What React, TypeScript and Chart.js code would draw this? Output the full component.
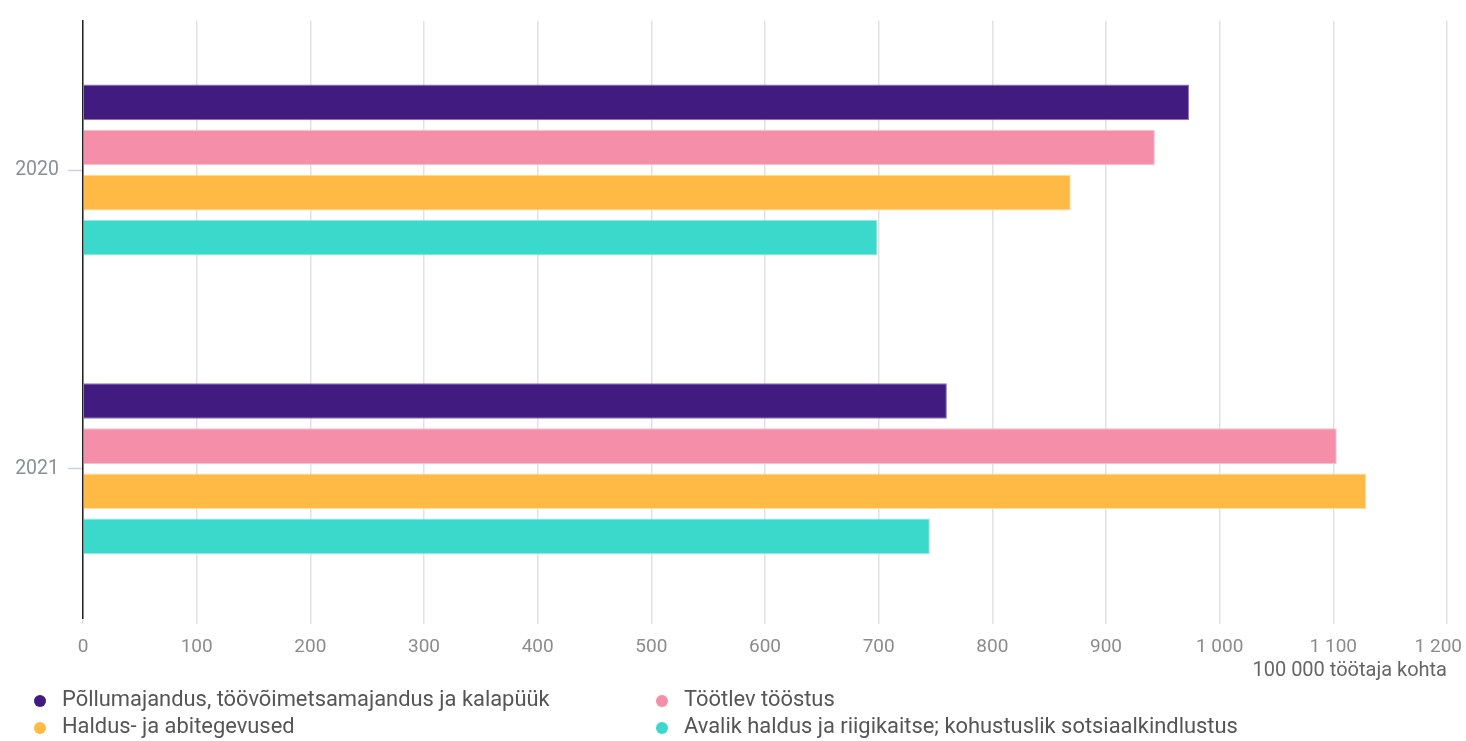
import React, { useEffect, useRef } from "react";
import { Chart, registerables } from "chart.js";

Chart.register(...registerables);

const categories = ["2020", "2021"];
const seriesNames = [
  "Põllumajandus, töövõimetsamajandus ja kalapüük",
  "Töötlev tööstus",
  "Haldus- ja abitegevused",
  "Avalik haldus ja riigikaitse; kohustuslik sotsiaalkindlustus",
];
const pollumajandus = [973, 760];
const tootlev = [943, 1103];
const haldus = [869, 1129];
const avalik = [699, 745];
const seriesValues = [pollumajandus, tootlev, haldus, avalik];
const seriesColors = ["#421b80", "#f58ea8", "#ffba45", "#3bd8cc"];
const seriesBorders = ["#8b72bf", "#f9c0cf", "#ffdca0", "#9debe5"];
const xTickMax = 1200;
const xTickStep = 100;
const axisTitle = "100 000 töötaja kohta";

const FONT = "Roboto";

const fmt = (v: number) =>
  String(v).replace(/\B(?=(\d{3})+(?!\d))/g, " ");

// keep the last x tick label inside the canvas (like the reference does)
const lastLabelPlugin = {
  id: "lastLabelInside",
  beforeDraw(chart: any) {
    const sc = chart.scales.x;
    const items = sc.getLabelItems(chart.chartArea);
    if (!items || !items.length) return;
    const last = items[items.length - 1];
    last.options.textAlign = "right";
    last.options.translation = [chart.width - 4, last.options.translation[1]];
  },
};

const legendPlugin = {
  id: "twoColLegend",
  afterDraw(chart: any) {
    const ctx = chart.ctx;
    const cols = [40, 662];
    const rows = [701, 728];
    ctx.save();
    ctx.font = `21.9px ${FONT}`;
    ctx.textBaseline = "middle";
    chart.data.datasets.forEach((ds: any, i: number) => {
      const x = cols[i % 2];
      const y = rows[Math.floor(i / 2)];
      ctx.beginPath();
      ctx.fillStyle = ds.backgroundColor;
      ctx.arc(x, y, 6, 0, Math.PI * 2);
      ctx.fill();
      ctx.fillStyle = "#555555";
      ctx.textAlign = "left";
      ctx.fillText(ds.label, x + 22, y);
    });
    ctx.restore();
  },
};

export default function App() {
  const ref = useRef<HTMLCanvasElement | null>(null);
  useEffect(() => {
    if (!ref.current) return;
    const chart = new Chart(ref.current, {
      type: "bar",
      data: {
        labels: categories,
        datasets: seriesNames.map((name, i) => ({
          label: name,
          data: seriesValues[i],
          backgroundColor: seriesColors[i],
          borderColor: seriesBorders[i],
          borderWidth: 1,
          categoryPercentage: 0.604,
          barPercentage: 0.79,
        })),
      },
      plugins: [lastLabelPlugin, legendPlugin],
      options: {
        indexAxis: "y",
        animation: false,
        responsive: false,
        maintainAspectRatio: false,
        layout: { padding: { left: 0, right: 19, top: 16, bottom: 58 } },
        plugins: {
          legend: { display: false },
          tooltip: { enabled: false },
        },
        scales: {
          x: {
            min: 0,
            max: xTickMax,
            ticks: {
              stepSize: xTickStep,
              color: "#8c8c8c",
              font: { family: FONT, size: 19 },
              padding: 12,
              maxRotation: 0,
              callback: (v: any) => fmt(Number(v)),
            },
            grid: {
              color: "#e2e2e2",
              lineWidth: 1.5,
              tickLength: 6,
            },
            border: { display: false },
            title: {
              display: true,
              text: axisTitle,
              align: "end",
              color: "#666666",
              font: { family: FONT, size: 20 },
              padding: { top: 0, bottom: 0 },
            },
            afterFit: (s: any) => {
              s.height = 65;
              s.paddingLeft = 0;
              s.paddingRight = 0;
            },
          },
          y: {
            ticks: {
              color: "#8a909a",
              font: { family: FONT, size: 19.5 },
              padding: 9,
            },
            grid: {
              offset: false,
              drawOnChartArea: false,
              tickLength: 15,
              tickColor: "#c9d3e3",
              tickWidth: 1.5,
            },
            border: { display: true, color: "#222222", width: 1.5 },
            afterFit: (s: any) => {
              s.width = 83;
            },
          },
        },
      },
    });
    return () => chart.destroy();
  }, []);
  return (
    <div style={{ position: "fixed", left: 0, top: 0, width: 1466, height: 741, background: "#fff" }}>
      <canvas ref={ref} width={1466} height={741} style={{ width: 1466, height: 741 }} />
    </div>
  );
}
